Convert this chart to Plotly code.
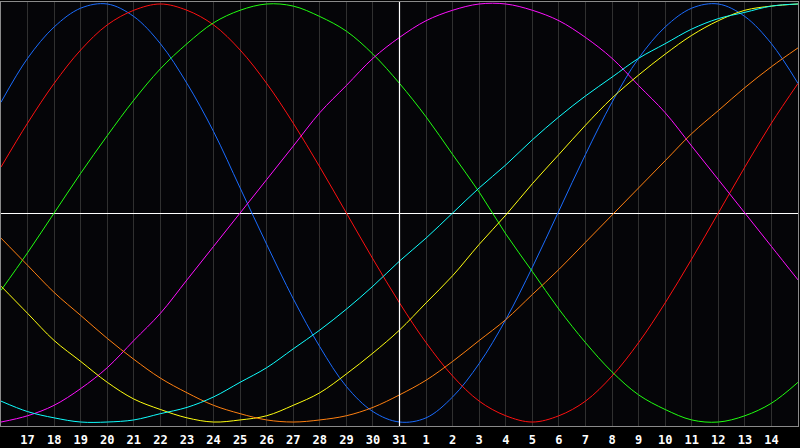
import plotly.graph_objects as go

##----------------------------------------------------------------
# day labels along the bottom (one grid column per day)
day_labels = ['17', '18', '19', '20', '21', '22', '23', '24', '25', '26', '27', '28', '29', '30', '31',
              '1', '2', '3', '4', '5', '6', '7', '8', '9', '10', '11', '12', '13', '14']
# sample positions, one per day, from the left edge to the right edge
day_pos = list(range(0, 31))
month_break = day_labels.index('31') + 1   # position of the white vertical line

# cycle values (-1 .. 1), one per sample position
physical = [0.53, 0.74, 0.89, 0.98, 1.00, 0.94, 0.81, 0.62, 0.39, 0.12, -0.15, -0.41, -0.64, -0.83, -0.95, -1.00,
            -0.98, -0.88, -0.72, -0.51, -0.26, 0.01, 0.28, 0.53, 0.74, 0.89, 0.98, 1.00, 0.94, 0.81, 0.62]
emotional = [0.22, 0.43, 0.62, 0.78, 0.90, 0.97, 1.00, 0.97, 0.90, 0.78, 0.62, 0.43, 0.22, 0.00, -0.22, -0.43,
             -0.62, -0.78, -0.90, -0.97, -1.00, -0.97, -0.90, -0.78, -0.62, -0.43, -0.22, 0.00, 0.22, 0.43, 0.62]
intellectual = [-0.37, -0.19, 0.00, 0.19, 0.37, 0.54, 0.69, 0.81, 0.91, 0.97, 1.00, 0.99, 0.94, 0.87, 0.76, 0.62,
                0.46, 0.28, 0.10, -0.10, -0.28, -0.46, -0.62, -0.76, -0.87, -0.94, -0.99, -1.00, -0.97, -0.91, -0.81]
intuitive = [-1.00, -0.97, -0.92, -0.84, -0.74, -0.61, -0.48, -0.32, -0.16, 0.00, 0.16, 0.32, 0.48, 0.61, 0.74, 0.84,
             0.92, 0.97, 1.00, 1.00, 0.97, 0.92, 0.84, 0.74, 0.61, 0.48, 0.32, 0.16, 0.00, -0.16, -0.32]
aesthetic = [-0.35, -0.48, -0.61, -0.71, -0.81, -0.89, -0.94, -0.98, -1.00, -0.99, -0.97, -0.92, -0.86, -0.77, -0.67, -0.56,
             -0.43, -0.30, -0.15, -0.01, 0.14, 0.28, 0.42, 0.55, 0.66, 0.76, 0.85, 0.92, 0.97, 0.99, 1.00]
awareness = [-0.12, -0.25, -0.38, -0.49, -0.60, -0.70, -0.79, -0.86, -0.92, -0.96, -0.99, -1.00, -0.99, -0.97, -0.93, -0.87,
             -0.80, -0.71, -0.61, -0.51, -0.39, -0.27, -0.14, -0.01, 0.12, 0.25, 0.38, 0.49, 0.60, 0.70, 0.79]
spiritual = [-0.90, -0.95, -0.98, -1.00, -1.00, -0.99, -0.96, -0.93, -0.88, -0.81, -0.74, -0.65, -0.56, -0.46, -0.35, -0.23,
             -0.12, 0.00, 0.12, 0.23, 0.35, 0.46, 0.56, 0.65, 0.74, 0.81, 0.88, 0.93, 0.96, 0.99, 1.00]

series = [('Physical',     physical,     '#1a6cff'),
          ('Emotional',    emotional,    '#ff1010'),
          ('Intellectual', intellectual, '#20ff10'),
          ('Intuitive',    intuitive,    '#ff10ff'),
          ('Aesthetic',    aesthetic,    '#ffff10'),
          ('Awareness',    awareness,    '#ff8010'),
          ('Spiritual',    spiritual,    '#10ffff')]

##----------------------------------------------------------------
fig = go.Figure()
for name, vals, col in series:
    fig.add_trace(go.Scatter(x=day_pos, y=vals, name=name, mode='lines',
                             line=dict(color=col, width=1, shape='spline', smoothing=1),
                             hoverinfo='skip'))

# white vertical at the month change
fig.add_vline(x=month_break, line_color='white', line_width=1.2, layer='above')

fig.update_xaxes(range=[0, 30], tickvals=list(range(1, 30)), ticktext=day_labels,
                 showgrid=True, gridcolor='#303030', gridwidth=1, zeroline=False,
                 showline=True, mirror=True, linecolor='#8a8a8a', linewidth=1,
                 ticks='', ticklabelstandoff=3,
                 tickfont=dict(family='DejaVu Sans Mono', size=12, color='white', weight='bold'))
fig.update_yaxes(range=[-1.019, 1.0095], showticklabels=False, showgrid=False,
                 zeroline=True, zerolinecolor='white', zerolinewidth=1.2,
                 showline=True, mirror=True, linecolor='#8a8a8a', linewidth=1)

fig.update_layout(width=800, height=448, showlegend=False,
                  paper_bgcolor='#000000', plot_bgcolor='#050508',
                  margin=dict(l=1, r=1, t=1, b=20))

# drop the page's default body margin so the 800x448 figure fills the window
fig.write_html("out.html", config={'displayModeBar': False},
               post_script="document.body.style.margin='0px';")
